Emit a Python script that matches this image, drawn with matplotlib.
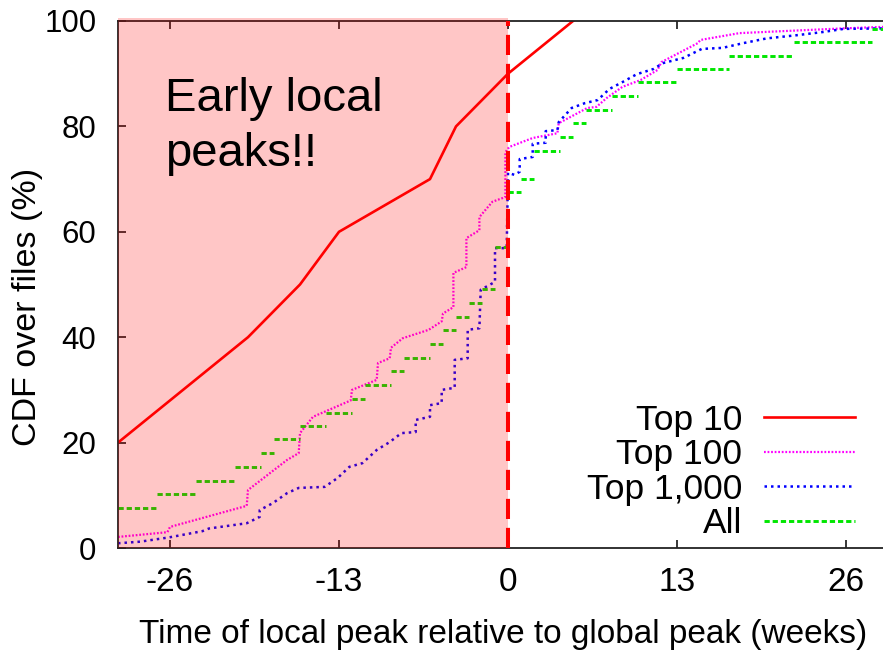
import numpy as np
import matplotlib.pyplot as plt
from matplotlib.patches import Rectangle

plt.rcParams['font.family'] = ['Liberation Sans', 'DejaVu Sans']
plt.rcParams['axes.unicode_minus'] = False

# CDF of local peak time relative to global peak (weeks), per file group
top10_weeks = [-30, -20, -16, -13, -6, -4, 0, 5]
top10_cdf = [20, 40, 50, 60, 70, 80, 90, 100]

top100_weeks = [-30, -26.2, -26, -20.1, -20, -19, -18, -17, -16.1, -16, -15, -12.1, -12,
                -10.1, -10, -9.1, -9, -8.1, -6.1, -5.1, -5, -4.2, -4.2, -3.2, -3.2, -2.2,
                -2.2, -1.2, -0.2, -0.2, 0.1, 1.9, 3.8, 3.9, 6.1, 6.8, 7.6, 8.8, 10.2, 11.5,
                11.8, 14.6, 14.8, 17.8, 25.8, 29]
top100_cdf = [2.1, 3.0, 4.0, 8.0, 11.0, 12.9, 14.8, 16.7, 18.0, 21.8, 24.9, 28.0, 30.0,
              31.9, 35.1, 36.0, 38.0, 39.8, 41.4, 43.0, 44.5, 45.7, 52.2, 53.3, 58.8, 60.3,
              62.8, 65.7, 66.6, 75.1, 76.1, 77.8, 78.7, 80.6, 83.5, 83.7, 85.4, 87.5, 88.8, 90.7,
              92.2, 95.8, 96.4, 97.7, 98.6, 98.9]

top1000_weeks = [-30, -28.3, -26.1, -23.5, -23, -20.1, -19.1, -19.1, -18.1, -17, -16.1, -14.1,
                 -13.1, -12.2, -11.2, -10.1, -9.1, -8.2, -7.1, -7.1, -6, -6, -5.1, -5.1, -4.1,
                 -4.1, -3.1, -3.1, -2.2, -2.1, -1, -1, -0.1, 0, 0.5, 0.9, 0.9, 1.9, 1.9, 2.9,
                 2.9, 3.8, 3.9, 4.9, 5.9, 6.9, 7.8, 8.8, 9.9, 11.2, 11.9, 13.5, 14.9, 16.5,
                 18.1, 19.9, 22.2, 24.2, 25.8, 29]
top1000_cdf = [0.9, 1.2, 2.0, 3.2, 3.7, 4.7, 5.9, 7.2, 8.5, 10.4, 11.4, 11.6,
               13.3, 15.4, 16.1, 18.6, 20.1, 21.8, 22.0, 24.3, 24.9, 27.1, 27.5, 30.0, 30.4,
               35.7, 36.0, 41.4, 41.7, 49.0, 50.5, 56.9, 56.9, 71.2, 70.8, 71.4, 73.8, 74.2, 76.7, 76.9,
               79.1, 79.3, 80.8, 83.5, 84.4, 85.0, 87.1, 88.4, 89.9, 90.9, 92.0, 93.0, 94.7, 94.9,
               95.8, 96.7, 97.3, 97.9, 98.5, 98.6]

# "All" is a step CDF: each level holds from its start week to the next start
all_start = [-30, -27, -24, -21, -19, -18, -16, -14, -12, -11, -9, -8, -6, -5, -4, -3, -2,
             -1, 0, 1, 2, 4, 5, 6, 8, 10, 13, 17, 22, 28]
all_cdf = [7.6, 10.2, 12.7, 15.3, 18.0, 20.6, 23.1, 25.7, 28.3, 30.9, 33.5, 36.1, 38.7, 41.3,
           43.9, 46.5, 49.1, 57.1, 67.5, 70.1, 75.3, 77.9, 80.6, 83.2, 85.8, 88.4, 90.9, 93.4,
           96.0, 98.5]
all_end = all_start[1:] + [29]

x_ticks = [-26, -13, 0, 13, 26]
y_ticks = [0, 20, 40, 60, 80, 100]

fig = plt.figure(figsize=(8.83, 6.51), dpi=100)
ax = fig.add_axes([118 / 883, 103 / 651, 767 / 883, 527 / 651])

ax.plot(top10_weeks, top10_cdf, color='#ff0000', lw=1.9, label='Top 10', zorder=2)
ax.plot(top100_weeks, top100_cdf, color='#ff00ff', lw=1.6, ls=(0, (0.8, 0.8)),
        dash_capstyle='butt', label='Top 100', zorder=2)
ax.plot(top1000_weeks, top1000_cdf, color='#0000ff', lw=1.8, ls=(0, (1, 1.6)),
        dash_capstyle='butt', label='Top 1,000', zorder=2)
ax.hlines(all_cdf, all_start, all_end, color='#00e600', lw=2.1,
          linestyles=(0, (1.8, 1.0)), label='All', zorder=2)

# shaded "before global peak" region, drawn over the curves
ax.add_patch(Rectangle((-30, 0), 30, 100.6, facecolor='#ff0000', alpha=0.225,
                       edgecolor='none', zorder=3, clip_on=False))
ax.plot([0, 0], [0, 100], color='#ff0000', lw=2.9, ls=(0, (5, 2.2)),
        dash_capstyle='butt', zorder=4)

ax.text(-26.4, 89.3, 'Early local\npeaks!!', fontsize=34, ha='left', va='top',
        linespacing=1.32, zorder=5)

ax.set_xlim(-30, 29)
ax.set_ylim(0, 100)
ax.set_xticks(x_ticks)
ax.set_yticks(y_ticks)
ax.tick_params(axis='x', direction='in', length=6, width=1.1, top=True,
               labelsize=24, pad=14)
ax.tick_params(axis='y', direction='in', length=6, width=1.1, right=False,
               labelsize=22.5, pad=15.5)
ax.spines['right'].set_visible(False)
for s in ('left', 'top', 'bottom'):
    ax.spines[s].set_linewidth(1.3)
    ax.spines[s].set_color('#222222')

fig.text(503 / 883, 1 - 643 / 651, 'Time of local peak relative to global peak (weeks)',
         fontsize=24, ha='center', va='baseline')
fig.text(28 / 883, 1 - 307 / 651, 'CDF over files (%)', fontsize=24.5,
         rotation=90, ha='center', va='center')

leg = ax.legend(loc='lower right', bbox_to_anchor=(855 / 883, 1 - 540 / 651),
                bbox_transform=fig.transFigure, frameon=False, markerfirst=False,
                fontsize=25.5, handlelength=2.57, handletextpad=0.62, labelspacing=0.04,
                borderpad=0, borderaxespad=0)

fig.savefig('out.png', dpi=100)
